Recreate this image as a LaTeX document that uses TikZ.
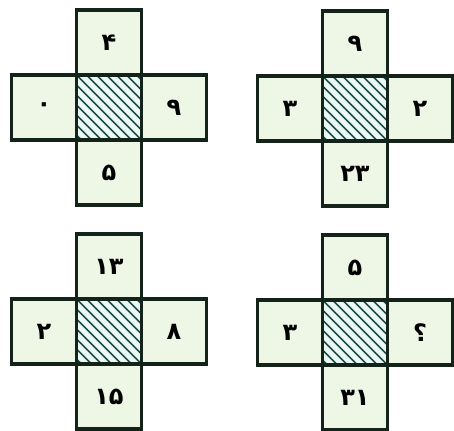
\documentclass[tikz,border=0pt]{standalone}
\usepackage{fontspec}
\newfontfamily\numfont[Script=Arabic]{DejaVu Sans}
\definecolor{crossEdge}{HTML}{13231A}
\definecolor{armFill}{HTML}{EEF7E6}
\definecolor{hatchFill}{HTML}{ECF8F4}
\definecolor{hatchInk}{HTML}{1D4F4A}

\begin{document}
\begin{tikzpicture}[x=0.75pt,y=0.75pt,
      armcell/.style={draw=crossEdge,fill=armFill,line width=2.4pt,minimum size=48.75pt,
                inner sep=0pt,outer sep=0pt,font=\numfont\bfseries\fontsize{18}{18}\selectfont},
      hatchcell/.style={draw=crossEdge,line width=2.4pt,minimum size=48.75pt,inner sep=0pt,outer sep=0pt},
      hatchline/.style={draw=hatchInk,line width=1.1pt}]
    \useasboundingbox (0,0) rectangle (454,430);

    \foreach \k/\x/\y/\t/\l/\r/\b in {1/109/322.5/۴/۰/۹/۵,2/355/321.5/۹/۳/۲/۲۳,
                                      3/109/98.5/۱۳/۲/۸/۱۵,4/355/97.5/۵/۳/؟/۳۱}{
      \node[armcell]   (top\k) at (\x,\y+65)   {\t};
      \node[armcell]   (lft\k) at (\x-65,\y)   {\l};
      \node[armcell]   (rgt\k) at (\x+65,\y)   {\r};
      \node[armcell]   (bot\k) at (\x,\y-65)   {\b};
      \fill[hatchFill] (\x-32.5,\y-32.5) rectangle (\x+32.5,\y+32.5);
      % diagonal hatching of the middle square
      \begin{scope}
        \clip (\x-32.5,\y-32.5) rectangle (\x+32.5,\y+32.5);
        \foreach \s in {-70,-60,...,70}
          \draw[hatchline] (\x+\s-40,\y+40) -- (\x+\s+40,\y-40);
      \end{scope}
      \node[hatchcell] (ctr\k) at (\x,\y)      {};
    }
  \end{tikzpicture}
\end{document}
